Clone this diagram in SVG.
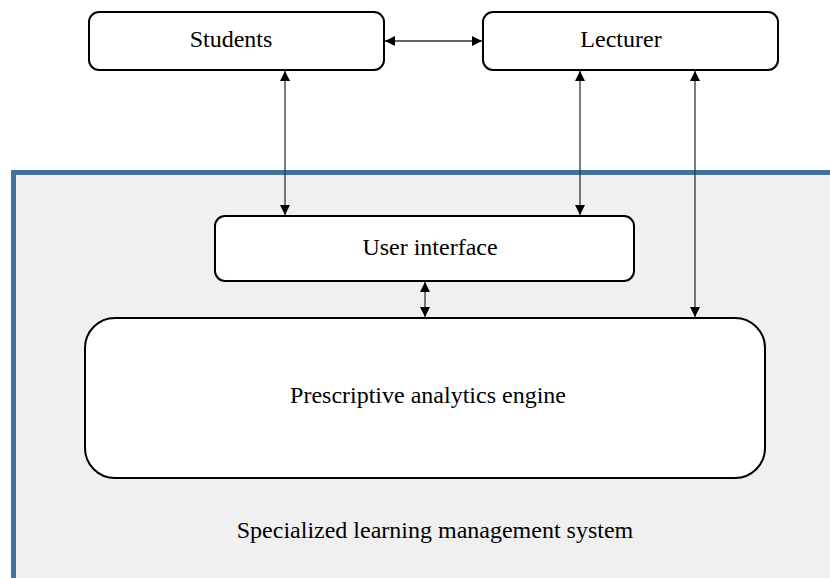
<svg xmlns="http://www.w3.org/2000/svg" width="830" height="578" viewBox="0 0 830 578">
<style>
.box{fill:#fff;stroke:#000;stroke-width:2}
.t{font-family:"Liberation Serif","Times New Roman",serif;font-size:24px;fill:#000;text-anchor:middle}
.c{stroke:#333;stroke-width:1.3;fill:none;marker-start:url(#a);marker-end:url(#a)}
</style>
<defs>
<marker id="a" viewBox="0 0 10 10" refX="10" refY="5" markerWidth="10" markerHeight="10" markerUnits="userSpaceOnUse" orient="auto-start-reverse">
<path d="M0,0 L10,5 L0,10 z" fill="#000"/>
</marker>
</defs>
<g id="system">
<rect x="13.5" y="172.5" width="830" height="420" fill="#f0f0f0" stroke="#41719c" stroke-width="5"/>
<text class="t" x="435" y="538">Specialized learning management system</text>
</g>
<g id="students">
<rect class="box" x="89" y="12" width="295" height="58" rx="10"/>
<text class="t" x="231" y="47">Students</text>
</g>
<g id="lecturer">
<rect class="box" x="483" y="12" width="295" height="58" rx="10"/>
<text class="t" x="621" y="47">Lecturer</text>
</g>
<g id="ui">
<rect class="box" x="215" y="216" width="419" height="65" rx="10"/>
<text class="t" x="430" y="255">User interface</text>
</g>
<g id="engine">
<rect class="box" x="85" y="318" width="680" height="160" rx="30"/>
<text class="t" x="428" y="403">Prescriptive analytics engine</text>
</g>
<g id="connectors">
<line class="c" x1="385" y1="41" x2="482" y2="41"/>
<line class="c" x1="285" y1="71" x2="285" y2="215"/>
<line class="c" x1="580" y1="71" x2="580" y2="215"/>
<line class="c" x1="695" y1="71" x2="695" y2="317"/>
<line class="c" x1="425" y1="282" x2="425" y2="317"/>
</g>
</svg>
